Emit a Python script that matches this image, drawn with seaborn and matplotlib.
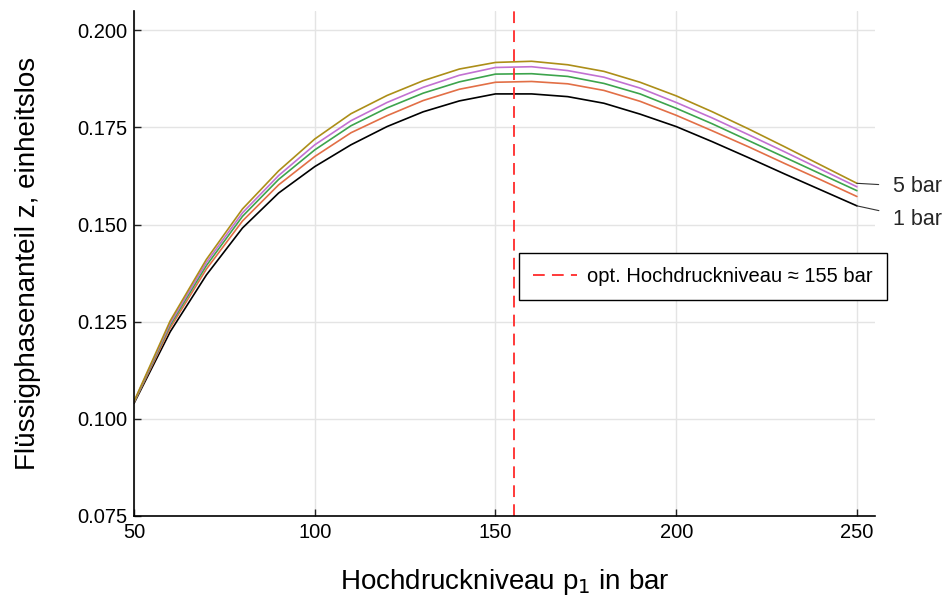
import numpy as np
import pandas as pd
import matplotlib
matplotlib.use("Agg")
import matplotlib.pyplot as plt
import seaborn as sb

# Hochdruckniveau p1 in bar
p_hoch = [50, 60, 70, 80, 90, 100, 110, 120, 130, 140, 150,
          160, 170, 180, 190, 200, 210, 220, 230, 240, 250]

# Fluessigphasenanteil z fuer verschiedene Niederdruckniveaus
z_1bar = [0.1040, 0.1224, 0.1370, 0.1491, 0.1581, 0.1649, 0.1705, 0.1752, 0.1790, 0.1818, 0.1836,
          0.1836, 0.1829, 0.1812, 0.1784, 0.1752, 0.1713, 0.1672, 0.1630, 0.1589, 0.1548]
z_2bar = [0.1042, 0.1234, 0.1385, 0.1509, 0.1602, 0.1675, 0.1736, 0.1780, 0.1819, 0.1848, 0.1866,
          0.1868, 0.1862, 0.1845, 0.1817, 0.1781, 0.1741, 0.1700, 0.1657, 0.1615, 0.1572]
z_3bar = [0.1043, 0.1241, 0.1394, 0.1521, 0.1616, 0.1692, 0.1754, 0.1800, 0.1838, 0.1867, 0.1887,
          0.1888, 0.1881, 0.1863, 0.1836, 0.1799, 0.1759, 0.1716, 0.1673, 0.1630, 0.1587]
z_4bar = [0.1044, 0.1246, 0.1402, 0.1530, 0.1626, 0.1705, 0.1767, 0.1814, 0.1853, 0.1884, 0.1904,
          0.1906, 0.1896, 0.1879, 0.1851, 0.1814, 0.1774, 0.1731, 0.1687, 0.1642, 0.1597]
z_5bar = [0.1045, 0.1252, 0.1410, 0.1540, 0.1638, 0.1720, 0.1785, 0.1832, 0.1870, 0.1900, 0.1917,
          0.1920, 0.1911, 0.1894, 0.1866, 0.1831, 0.1790, 0.1746, 0.1700, 0.1653, 0.1606]

niederdruck = ["1 bar", "2 bar", "3 bar", "4 bar", "5 bar"]
p_opt = 155

farben = ["#000000", "#E26F46", "#3DA44D", "#C271D2", "#AC8E18"]

df = pd.DataFrame({
    "p1": p_hoch * 5,
    "z": z_1bar + z_2bar + z_3bar + z_4bar + z_5bar,
    "p0": [n for n in niederdruck for _ in p_hoch],
})

sb.set_theme(style="whitegrid")
plt.rcParams["font.family"] = ["Liberation Sans", "DejaVu Sans"]

fig = plt.figure(figsize=(9.48, 5.97), dpi=100)
ax = fig.add_axes([0.1414, 0.1357, 0.7816, 0.8463])

sb.lineplot(data=df, x="p1", y="z", hue="p0", palette=farben, linewidth=1.2,
            legend=False, ax=ax)

ax.axvline(p_opt, color="#FF2A2A", linestyle=(0, (6.5, 4)), linewidth=1.3,
           label="opt. Hochdruckniveau \u2248 155 bar")

ax.set_xlim(50, 255)
ax.set_ylim(0.075, 0.205)
ax.set_xticks([50, 100, 150, 200, 250])
ax.set_yticks([0.075, 0.100, 0.125, 0.150, 0.175, 0.200])
ax.set_yticklabels(["0.075", "0.100", "0.125", "0.150", "0.175", "0.200"])

ax.grid(True, color="#E4E4E4", linewidth=1.0)
ax.set_facecolor("white")
for s in ["top", "right"]:
    ax.spines[s].set_visible(False)
for s in ["left", "bottom"]:
    ax.spines[s].set_color("black")
    ax.spines[s].set_linewidth(1.2)
ax.tick_params(axis="both", direction="in", length=5, width=1, color="#222222",
               labelsize=14.5, pad=5, left=True, bottom=True, labelcolor="black")

ax.set_xlabel("Hochdruckniveau p$_1$ in bar", fontsize=20, labelpad=18, color="black")
ax.set_ylabel("Flüssigphasenanteil z, einheitslos", fontsize=20, labelpad=26, color="black")

# Beschriftung der aeusseren Kurven
ax.annotate("5 bar", xy=(p_hoch[-1], z_5bar[-1]), xycoords="data",
            xytext=(26, -2.5), textcoords="offset points", fontsize=15.5, va="center",
            annotation_clip=False,
            arrowprops=dict(arrowstyle="-", color="#333333", lw=0.8, shrinkA=8, shrinkB=0))
ax.annotate("1 bar", xy=(p_hoch[-1], z_1bar[-1]), xycoords="data",
            xytext=(26, -9.5), textcoords="offset points", fontsize=15.5, va="center",
            annotation_clip=False,
            arrowprops=dict(arrowstyle="-", color="#333333", lw=0.8, shrinkA=8, shrinkB=0))

leg = ax.legend(loc="upper left", bbox_to_anchor=(0.519, 0.521), borderaxespad=0,
                fontsize=14.5, fancybox=False, framealpha=1, edgecolor="black",
                handlelength=2.2, borderpad=0.7, handletextpad=0.5)
leg.get_frame().set_linewidth(1.0)
for t in leg.get_texts():
    t.set_color("black")

fig.savefig("out.png", dpi=100)
